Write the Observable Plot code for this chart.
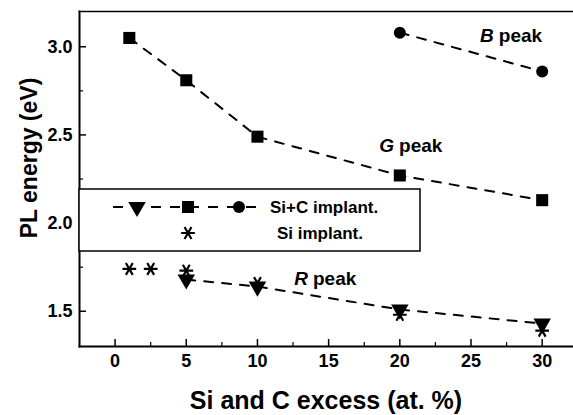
<!DOCTYPE html>
<html>
<head>
<meta charset="utf-8">
<script src="https://cdn.jsdelivr.net/npm/d3@7"></script>
<script src="https://cdn.jsdelivr.net/npm/@observablehq/plot@0.6"></script>
<style>
  body { margin: 0; background: #fff; }
  svg { font-family: "Liberation Sans", Arial, Helvetica, sans-serif; }
</style>
</head>
<body>
<div id="chart"></div>
<script>
// PL peak energies vs. Si and C excess
const excessG = [1, 5, 10, 20, 30];
const energyG = [3.05, 2.81, 2.49, 2.27, 2.13];
const excessB = [20, 30];
const energyB = [3.08, 2.86];
const excessR = [5, 10, 20, 30];
const energyR = [1.68, 1.64, 1.51, 1.43];
const excessSi = [1, 2.5, 5, 10, 20, 30];
const energySi = [1.74, 1.74, 1.73, 1.66, 1.48, 1.39];

const xTicks = [0, 5, 10, 15, 20, 25, 30];
const xMinorTicks = [2.5, 7.5, 12.5, 17.5, 22.5, 27.5];
const yTicks = [1.5, 2.0, 2.5, 3.0];
const yMinorTicks = [1.75, 2.25, 2.75];

const peakNames = ["B", "G", "R"];
const legendLabels = ["Si+C implant.", "Si implant."];
const xTitle = "Si and C excess (at. %)";
const yTitle = "PL energy (eV)";

// where each peak name sits (junction of italic letter and "peak")
const peakAnchorX = [26.6, 19.6, 13.55];
const peakAnchorY = [3.064, 2.44, 1.686];

const toRows = (xs, ys) => xs.map((x, i) => ({x, y: ys[i]}));
const G = toRows(excessG, energyG);
const B = toRows(excessB, energyB);
const R = toRows(excessR, energyR);
const Si = toRows(excessSi, energySi);
const peaks = peakNames.map((name, i) => ({name, x: peakAnchorX[i], y: peakAnchorY[i]}));

const W = 573, H = 415;
const mL = 79, mR = 0, mT = 11, mB = 69;
const innerW = W - mL - mR, innerH = H - mT - mB;

const dash = "9,9";
const font = "\"Liberation Sans\", Arial, Helvetica, sans-serif";
const starR = 6.5, starW = 2.2;

const chart = Plot.plot({
  width: W,
  height: H,
  marginLeft: mL,
  marginRight: mR,
  marginTop: mT,
  marginBottom: mB,
  style: {fontFamily: font, color: "#000", background: "#fff", overflow: "visible"},
  x: {domain: [-2.5, 32.2]},
  y: {domain: [1.3, 3.2]},
  marks: [
    // inward ticks
    Plot.ruleX(xTicks, {x: d => d, insetTop: innerH - 7, strokeWidth: 1.5}),
    Plot.ruleX(xMinorTicks, {x: d => d, insetTop: innerH - 4, strokeWidth: 1.2}),
    Plot.ruleY(yTicks, {y: d => d, insetRight: innerW - 7, strokeWidth: 1.5}),
    Plot.ruleY(yMinorTicks, {y: d => d, insetRight: innerW - 4, strokeWidth: 1.2}),
    // tick labels
    Plot.axisX(xTicks, {tickSize: 0, tickPadding: 8, fontSize: 18, fontWeight: "bold", label: null}),
    Plot.axisY(yTicks, {tickSize: 0, tickPadding: 7, fontSize: 18, fontWeight: "bold", label: null, tickFormat: d3.format(".1f")}),
    // dashed guides through the Si+C points
    Plot.line(G, {x: "x", y: "y", stroke: "#000", strokeWidth: 2, strokeDasharray: dash}),
    Plot.line(B, {x: "x", y: "y", stroke: "#000", strokeWidth: 2, strokeDasharray: dash}),
    Plot.line(R, {x: "x", y: "y", stroke: "#000", strokeWidth: 2, strokeDasharray: dash}),
    // markers
    Plot.dot(G, {x: "x", y: "y", symbol: "square", r: 6.8, fill: "#000", stroke: null}),
    Plot.dot(B, {x: "x", y: "y", symbol: "circle", r: 6, fill: "#000", stroke: null}),
    Plot.dot(R, {x: "x", y: "y", symbol: "triangle", rotate: 180, r: 6.5, fill: "#000", stroke: null}),
    Plot.dot(Si, {x: "x", y: "y", symbol: "asterisk", rotate: 90, r: starR, stroke: "#000", strokeWidth: starW, fill: "none"}),
    // peak names
    Plot.text(peaks, {x: "x", y: "y", text: "name", textAnchor: "end", fontSize: 19, fontWeight: "bold", fontStyle: "italic"}),
    Plot.text(peaks, {x: "x", y: "y", text: () => "peak", textAnchor: "start", dx: 5, fontSize: 19, fontWeight: "bold"}),
    // plot border
    Plot.frame({anchor: "left", strokeWidth: 2}),
    Plot.frame({anchor: "bottom", strokeWidth: 2}),
    Plot.frame({anchor: "top", strokeWidth: 1.5})
  ]
});

const svg = d3.select(chart);

// axis titles
svg.append("text")
  .attr("x", mL + innerW / 2).attr("y", 400).attr("dy", "0.35em")
  .attr("text-anchor", "middle").attr("font-size", 25).attr("font-weight", "bold")
  .text(xTitle);
svg.append("text")
  .attr("transform", `translate(37,158) rotate(-90)`)
  .attr("text-anchor", "middle").attr("font-size", 23).attr("font-weight", "bold")
  .text(yTitle);

// legend box inside the plot area
const lg = svg.append("g").attr("class", "legend").attr("text-anchor", "start");
const box = {x: mL, y: 189, w: 341, h: 62};
lg.append("rect")
  .attr("x", box.x).attr("y", box.y).attr("width", box.w).attr("height", box.h)
  .attr("fill", "#fff").attr("stroke", "#000").attr("stroke-width", 1.5);
const row1 = box.y + 18, row2 = box.y + 44;
lg.append("line")
  .attr("x1", 113).attr("x2", 257).attr("y1", row1).attr("y2", row1)
  .attr("stroke", "#000").attr("stroke-width", 2).attr("stroke-dasharray", "10,9");
const sym = (type, r) => d3.symbol(type, Math.PI * r * r)();
lg.append("path").attr("d", sym(d3.symbolTriangle, 6.5))
  .attr("transform", `translate(137,${row1}) rotate(180)`).attr("fill", "#000");
lg.append("path").attr("d", sym(d3.symbolSquare, 6.8))
  .attr("transform", `translate(188,${row1})`).attr("fill", "#000");
lg.append("path").attr("d", sym(d3.symbolCircle, 6))
  .attr("transform", `translate(239,${row1})`).attr("fill", "#000");
lg.append("path").attr("d", sym(d3.symbolAsterisk, starR))
  .attr("transform", `translate(188,${row2}) rotate(90)`)
  .attr("fill", "none").attr("stroke", "#000").attr("stroke-width", starW);
lg.append("text").attr("x", 270).attr("y", row1).attr("dy", "0.35em")
  .attr("font-size", 17).attr("font-weight", "bold").text(legendLabels[0]);
lg.append("text").attr("x", 277).attr("y", row2).attr("dy", "0.35em")
  .attr("font-size", 17).attr("font-weight", "bold").text(legendLabels[1]);

document.getElementById("chart").append(chart);
</script>
</body>
</html>
